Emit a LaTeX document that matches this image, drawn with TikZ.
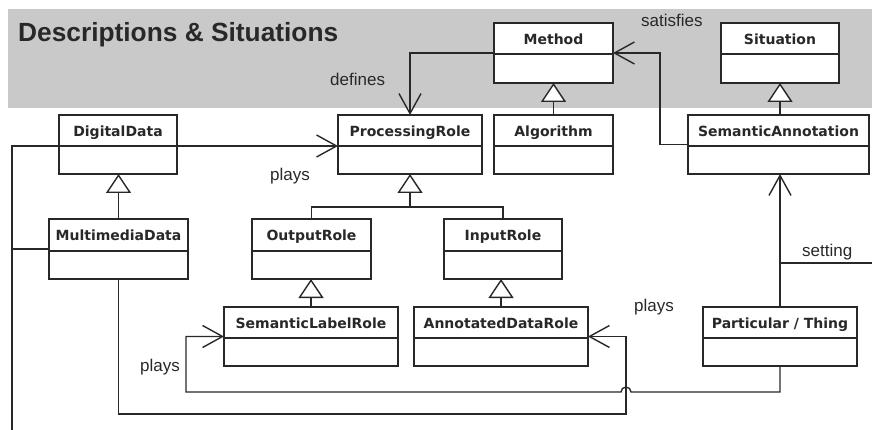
\documentclass[tikz,border=0pt]{standalone}
\usepackage{fontspec}
\setmainfont{Liberation Sans}
\newfontfamily\clsfont{DejaVu Sans}
\usetikzlibrary{arrows.meta,calc}
\definecolor{band}{RGB}{201,201,201}
\definecolor{ink}{RGB}{40,40,40}
\tikzset{
  umlbox/.style={draw=ink, fill=white, line width=1.4pt, inner sep=0pt, outer sep=0pt, rectangle},
  umlline/.style={draw=ink, line width=1.4pt},
  clslbl/.style={font=\clsfont\bfseries\fontsize{14}{16}\selectfont, text=ink, inner sep=0pt},
  rellbl/.style={font=\fontsize{17}{19}\selectfont, text=ink, inner sep=0pt, anchor=base west},
  assoc/.style={umlline, -{Straight Barb[length=20pt,width=22pt]}},
  gen/.style={umlline, -{Triangle[length=19pt,width=25pt,fill=white]}},
}
\newcommand\umlclass[7]{%
  \node[umlbox, anchor=north west, minimum width={(#4-#2)*1pt}, minimum height={(#5-#3)*1pt}] (#1) at (#2,#3) {};
  \draw[umlline] (#2,#6) -- (#4,#6);
  \node[clslbl, anchor=base] (#1-name) at ({(#2+#4)/2},{#3+21.5}) {#7};
}
\begin{document}
\begin{tikzpicture}[x=1pt,y=-1pt]
\useasboundingbox (0,0) rectangle (872,430);
\fill[band] (8,9) rectangle (872,108);
\node[anchor=base west, font=\bfseries\fontsize{26.3}{29}\selectfont, text=ink, inner sep=0pt] (title) at (18,41.5) {Descriptions \& Situations};

\coordinate (y146) at (0,146);
\coordinate (lbot) at (12,430);

% connectors drawn first (behind boxes)
\draw[umlline] (60,146) -| (lbot);

\umlclass{dd}{59}{115}{177}{174}{146}{DigitalData}
\umlclass{proc}{338}{115}{482}{174}{146}{ProcessingRole}
\umlclass{meth}{494}{23}{613}{83}{54}{Method}
\umlclass{sit}{721}{23}{839}{83}{54}{Situation}
\umlclass{alg}{494}{115}{613}{174}{146}{Algorithm}
\umlclass{sa}{688}{115}{869}{174}{146}{SemanticAnnotation}
\umlclass{mm}{49}{219}{188}{279}{251}{MultimediaData}
\umlclass{orole}{252}{219}{371}{279}{251}{OutputRole}
\umlclass{irole}{444}{219}{562}{279}{251}{InputRole}
\umlclass{slr}{224}{307}{398}{366}{338}{SemanticLabelRole}
\umlclass{adr}{414}{307}{588}{366}{338}{AnnotatedDataRole}
\umlclass{pt}{703}{307}{857}{366}{338}{Particular / Thing}

% left connector
\draw[umlline] (mm.west) -- (mm.west -| lbot);

% generalizations
\draw[gen] (mm.north) -- (mm.north |- dd.south);
\draw[gen] (orole.north) |- (410,207) -- (proc.south);
\draw[umlline] (irole.north) |- (410,207);
\draw[gen] (slr.north) -- (slr.north |- orole.south);
\draw[gen] (adr.north) -- (adr.north |- irole.south);
\draw[gen] (alg.north) -- (alg.north |- meth.south);
\draw[gen] (sa.north -| sit.south) -- (sit.south);

% associations
\draw[assoc] (meth.west) -| (proc.north);
\draw[assoc] (dd.east |- y146) -- (proc.west |- y146);
\draw[assoc] (sa.west) -- ++(-28,0) |- (meth.east);
\draw[assoc] (pt.north) -- (pt.north |- sa.south);
\coordinate (setj) at (780,263);
\coordinate (rgt) at (872,263);
\draw[umlline] (setj) -- (rgt);
\draw[assoc] (mm.south) |- (626,414) |- (adr.east);
\draw[assoc] (pt.south) |- (631,392) arc[start angle=0,end angle=180,radius=5pt] -- (186,392) |- (slr.west);

% labels
\node[rellbl] (l-sat) at (641,27) {satisfies};
\node[rellbl] (l-def) at (330,86) {defines};
\node[rellbl] (l-p1) at (270,181) {plays};
\node[rellbl] (l-p2) at (634,311) {plays};
\node[rellbl] (l-p3) at (140,371) {plays};
\node[rellbl] (l-set) at (802,257) {setting};
\end{tikzpicture}
\end{document}
